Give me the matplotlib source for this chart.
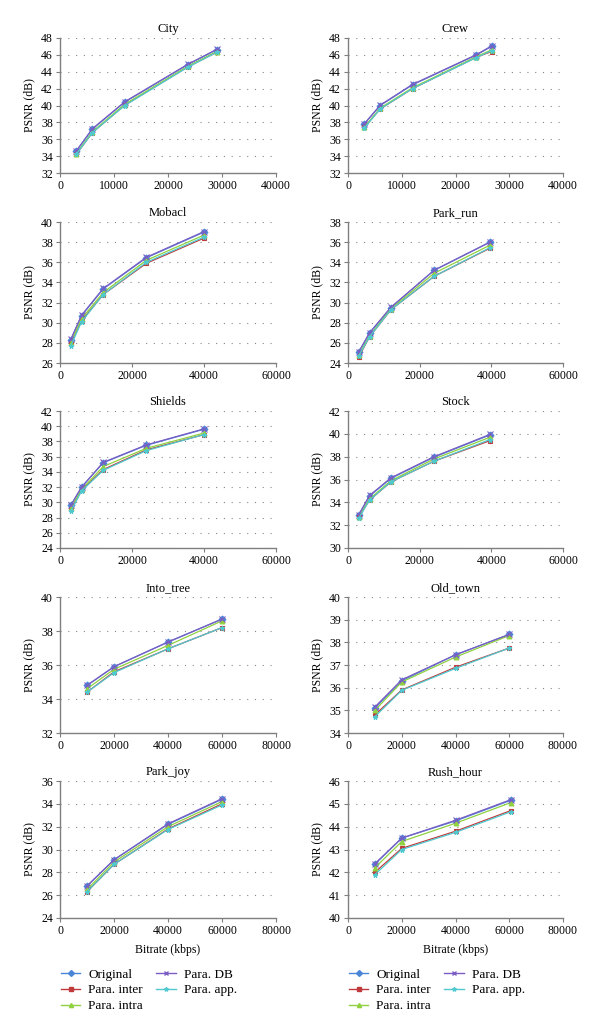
import matplotlib
matplotlib.use("Agg")
import matplotlib.pyplot as plt
from matplotlib.lines import Line2D

plt.rcParams['font.family'] = ['Liberation Serif', 'DejaVu Serif']
plt.rcParams['font.size'] = 8

series_names = ['Original', 'Para. inter', 'Para. intra', 'Para. DB', 'Para. app.']
series_colors = ['#4a86d8', '#c0393b', '#8fd13f', '#7b5cc4', '#4fc9d0']
series_markers = ['D', 's', '^', 'x', '*']

titles = ['City', 'Crew', 'Mobacl', 'Park_run', 'Shields', 'Stock',
          'Into_tree', 'Old_town', 'Park_joy', 'Rush_hour']

# bitrates (kbps) per sequence
x_city = [3000, 6000, 12000, 23700, 29000]
x_crew = [3000, 6000, 12000, 23800, 26700]
x_mobacl = [3000, 6000, 12000, 24000, 40000]
x_park_run = [3000, 6000, 12000, 24000, 39600]
x_shields = [3000, 6000, 12000, 24000, 40000]
x_stock = [3000, 6000, 12000, 24000, 39600]
x_into_tree = [10000, 20000, 40000, 60000]
x_old_town = [10000, 20000, 40000, 60000]
x_park_joy = [10000, 20000, 40000, 60000]
x_rush_hour = [10000, 20000, 40000, 60500]

# PSNR (dB): Original, inter, intra, DB, app
psnr_city = [[34.6, 37.2, 40.4, 44.85, 46.6],
             [34.2, 36.8, 40.05, 44.6, 46.3],
             [34.3, 36.9, 40.15, 44.65, 46.4],
             [34.6, 37.25, 40.45, 44.9, 46.65],
             [34.2, 36.8, 40.0, 44.55, 46.3]]
psnr_crew = [[37.8, 40.0, 42.45, 45.95, 47.0],
             [37.4, 39.6, 42.0, 45.7, 46.4],
             [37.4, 39.7, 42.1, 45.75, 46.6],
             [37.8, 40.05, 42.5, 46.0, 47.05],
             [37.3, 39.6, 42.0, 45.65, 46.5]]
psnr_mobacl = [[28.3, 30.7, 33.35, 36.45, 39.0],
               [28.0, 30.2, 32.8, 35.9, 38.4],
               [28.0, 30.4, 33.0, 36.2, 38.7],
               [28.35, 30.75, 33.4, 36.5, 39.05],
               [27.7, 30.1, 32.8, 36.0, 38.5]]
psnr_park_run = [[25.1, 26.95, 29.5, 33.2, 36.0],
                 [24.6, 26.6, 29.3, 32.6, 35.4],
                 [24.8, 26.7, 29.4, 32.9, 35.7],
                 [25.1, 27.0, 29.55, 33.2, 36.0],
                 [24.7, 26.6, 29.3, 32.6, 35.45]]
psnr_shields = [[29.6, 32.0, 35.2, 37.5, 39.6],
                [29.1, 31.6, 34.3, 36.9, 38.9],
                [29.2, 31.7, 34.7, 37.1, 39.1],
                [29.6, 32.0, 35.25, 37.55, 39.65],
                [28.8, 31.5, 34.2, 36.8, 38.9]]
psnr_stock = [[32.9, 34.55, 36.1, 37.95, 39.9],
              [32.7, 34.2, 35.8, 37.6, 39.4],
              [32.7, 34.3, 35.9, 37.8, 39.7],
              [32.9, 34.6, 36.15, 38.0, 39.95],
              [32.6, 34.2, 35.8, 37.6, 39.5]]
psnr_into_tree = [[34.8, 35.9, 37.35, 38.7],
                  [34.4, 35.6, 36.95, 38.2],
                  [34.6, 35.75, 37.15, 38.6],
                  [34.8, 35.9, 37.35, 38.7],
                  [34.4, 35.55, 36.95, 38.2]]
psnr_old_town = [[35.1, 36.3, 37.45, 38.35],
                 [34.8, 35.9, 36.9, 37.75],
                 [35.0, 36.25, 37.35, 38.3],
                 [35.15, 36.35, 37.45, 38.35],
                 [34.72, 35.88, 36.85, 37.75]]
psnr_park_joy = [[26.8, 29.1, 32.2, 34.4],
                 [26.3, 28.7, 31.8, 34.0],
                 [26.5, 28.9, 32.0, 34.2],
                 [26.8, 29.1, 32.25, 34.45],
                 [26.3, 28.7, 31.75, 33.9]]
psnr_rush_hour = [[42.35, 43.5, 44.25, 45.15],
                  [42.0, 43.05, 43.8, 44.7],
                  [42.2, 43.35, 44.15, 45.05],
                  [42.38, 43.5, 44.28, 45.18],
                  [41.9, 43.0, 43.75, 44.65]]

all_x = [x_city, x_crew, x_mobacl, x_park_run, x_shields, x_stock,
         x_into_tree, x_old_town, x_park_joy, x_rush_hour]
all_psnr = [psnr_city, psnr_crew, psnr_mobacl, psnr_park_run, psnr_shields,
            psnr_stock, psnr_into_tree, psnr_old_town, psnr_park_joy, psnr_rush_hour]

# axis ranges (xmax, xstep, ymin, ymax, ystep)
ranges = [(40000, 10000, 32, 48, 2), (40000, 10000, 32, 48, 2),
          (60000, 20000, 26, 40, 2), (60000, 20000, 24, 38, 2),
          (60000, 20000, 24, 42, 2), (60000, 20000, 30, 42, 2),
          (80000, 20000, 32, 40, 2), (80000, 20000, 34, 40, 1),
          (80000, 20000, 24, 36, 2), (80000, 20000, 40, 46, 1)]

W, H = 600, 1033
fig = plt.figure(figsize=(W / 100, H / 100), dpi=100)

col_left = [60, 348]
col_width = [216, 215]
row_spans = [(38, 173), (222, 363), (411, 548), (597, 733), (781, 918)]

axis_gray = '#7f7f7f'

for i, title in enumerate(titles):
    r, c = divmod(i, 2)
    top, bot = row_spans[r]
    ax = fig.add_axes([col_left[c] / W, 1 - bot / H, col_width[c] / W, (bot - top) / H])
    xmax, xstep, ymin, ymax, ystep = ranges[i]

    for k in range(5):
        ax.plot(all_x[i], all_psnr[i][k], color=series_colors[k], marker=series_markers[k],
                markersize=3.5 if series_markers[k] != 'x' else 4.5, linewidth=0.9,
                markeredgewidth=0.8, zorder=3 + k)

    ax.set_xlim(0, xmax)
    ax.set_ylim(ymin, ymax)
    ax.set_xticks(range(0, xmax + 1, xstep))
    yt = list(range(ymin, ymax + 1, ystep))
    ax.set_yticks(yt)
    ax.grid(axis='y', color='#888888', linestyle=(0, (1, 6)), linewidth=0.8)
    for s in ['top', 'right']:
        ax.spines[s].set_visible(False)
    for s in ['left', 'bottom']:
        ax.spines[s].set_color(axis_gray)
        ax.spines[s].set_linewidth(1.0)
    ax.tick_params(axis='both', direction='out', length=3, width=0.8, color=axis_gray,
                   labelsize=8.5, pad=2)
    ax.set_title(title, fontsize=9, pad=4)
    ax.set_ylabel('PSNR (dB)', fontsize=8.5, labelpad=4)
    if r == 4:
        ax.set_xlabel('Bitrate (kbps)', fontsize=8.5, labelpad=5)
        handles = [Line2D([], [], color=series_colors[k], marker=series_markers[k],
                          markersize=3, linewidth=1.0) for k in range(5)]
        ax.legend(handles, series_names, loc='upper left', bbox_to_anchor=(0.003, -0.367),
                  ncol=2, frameon=False, fontsize=9.5, handlelength=1.5,
                  handletextpad=0.6, columnspacing=1.0, labelspacing=0.28,
                  borderaxespad=0, borderpad=0)

fig.savefig('out.png', dpi=100)
